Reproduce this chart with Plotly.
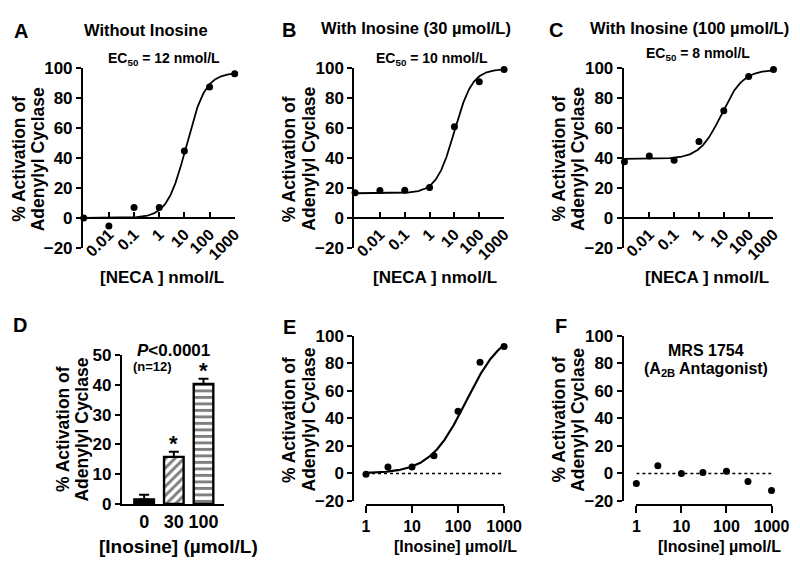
import numpy as np
import plotly.graph_objects as go

FONT = "Arial, 'Liberation Sans', sans-serif"
W, H = 800, 561

# ---------------- data ----------------
neca_conc = [0.001, 0.01, 0.1, 1, 10, 100, 1000]
act_without = [0.0, -5.4, 7.0, 7.0, 44.7, 87.5, 96.3]
act_ino30 = [16.8, 18.3, 18.5, 20.4, 60.9, 91.0, 99.1]
act_ino100 = [37.6, 41.3, 38.5, 51.0, 71.6, 94.4, 99.1]
# fitted 4-parameter logistic: bottom, top, EC50, hill
fit_without = [0.0, 97.0, 12.0, 1.15]
fit_ino30 = [16.5, 99.5, 10.0, 1.2]
fit_ino100 = [39.5, 99.0, 8.0, 1.0]

inosine_dose = ["0", "30", "100"]
inosine_mean = [1.5, 15.8, 40.3]
inosine_sem = [1.6, 1.7, 1.8]
bar_patterns = ["", "/", "-"]
bar_fills = ["black", "white", "white"]

inosine_conc = [1, 3, 10, 30, 100, 300, 1000]
act_inosine = [-0.5, 4.7, 4.7, 12.9, 45.2, 80.8, 92.3]
fit_inosine = [0.0, 105.0, 150.0, 1.1]
act_mrs = [-7.3, 5.6, 0.0, 0.7, 1.6, -5.9, -12.4]

neca_ticks = [0.01, 0.1, 1, 10, 100, 1000]
neca_ticktext = ["0.01", "0.1", "1", "10", "100", "1000"]
ino_ticks = [1, 10, 100, 1000]
ino_ticktext = ["1", "10", "100", "1000"]


def logistic(x, p):
    b, t, ec, h = p
    x = np.asarray(x, dtype=float)
    return b + (t - b) / (1 + (ec / x) ** h)


def px(x):
    return x / W


def py(y):
    return 1 - y / H


fig = go.Figure()

# ---------- top row (A, B, C) ----------
top_sets = [(act_without, fit_without, "x", "y"),
            (act_ino30, fit_ino30, "x2", "y2"),
            (act_ino100, fit_ino100, "x3", "y3")]
xc = np.logspace(-3, 3, 300)
for ys, fit, xa, ya in top_sets:
    fig.add_trace(go.Scatter(x=xc, y=logistic(xc, fit), mode="lines",
                             line=dict(color="black", width=1.8),
                             xaxis=xa, yaxis=ya, cliponaxis=False, showlegend=False))
    fig.add_trace(go.Scatter(x=neca_conc, y=ys, mode="markers",
                             marker=dict(color="black", size=7),
                             xaxis=xa, yaxis=ya, cliponaxis=False, showlegend=False))

# ---------- D bars (one trace per bar, overlaid) ----------
for i in range(len(inosine_dose)):
    mk = dict(color=bar_fills[i], line=dict(color="black", width=2.4))
    if bar_patterns[i]:
        mk["pattern"] = dict(shape=bar_patterns[i], fgcolor="black", bgcolor="white",
                             size=6.5, solidity=0.45, fillmode="overlay")
    fig.add_trace(go.Bar(
        x=[inosine_dose[i]], y=[inosine_mean[i]], width=0.66, marker=mk,
        error_y=dict(type="data", array=[inosine_sem[i]], arrayminus=[0], symmetric=False,
                     color="black", thickness=2, width=5),
        xaxis="x4", yaxis="y4", showlegend=False))

# ---------- E ----------
xe = np.logspace(0, 3, 300)
fig.add_trace(go.Scatter(x=[1, 1000], y=[0, 0], mode="lines",
                         line=dict(color="black", width=1.3, dash="dot"),
                         xaxis="x5", yaxis="y5", showlegend=False))
fig.add_trace(go.Scatter(x=xe, y=logistic(xe, fit_inosine), mode="lines",
                         line=dict(color="black", width=2.2),
                         xaxis="x5", yaxis="y5", cliponaxis=False, showlegend=False))
fig.add_trace(go.Scatter(x=inosine_conc, y=act_inosine, mode="markers",
                         marker=dict(color="black", size=7),
                         xaxis="x5", yaxis="y5", cliponaxis=False, showlegend=False))

# ---------- F ----------
fig.add_trace(go.Scatter(x=[1, 1000], y=[0, 0], mode="lines",
                         line=dict(color="black", width=1.3, dash="dot"),
                         xaxis="x6", yaxis="y6", showlegend=False))
fig.add_trace(go.Scatter(x=inosine_conc, y=act_mrs, mode="markers",
                         marker=dict(color="black", size=7),
                         xaxis="x6", yaxis="y6", cliponaxis=False, showlegend=False))


# ---------- axes ----------
def tf(size):
    return dict(family=FONT, size=size, color="black", weight="bold")


base = dict(showline=True, linecolor="black", linewidth=2, showgrid=False, zeroline=False,
            tickcolor="black", tickwidth=2, ticklen=5, tickfont=tf(17))

top_y_dom = [py(239), py(53)]
y0_pos = top_y_dom[0] + (top_y_dom[1] - top_y_dom[0]) * 20 / 120

layout_axes = {}
for i, (x0, x1) in enumerate([(73, 229), (352, 506), (629, 783)]):
    s = "" if i == 0 else str(i + 1)
    layout_axes["xaxis" + s] = dict(base, domain=[px(x0), px(x1)], type="log", range=[-3.03, 3.0],
                                   anchor="free", position=y0_pos, ticks="inside",
                                   tickvals=neca_ticks, ticktext=neca_ticktext, tickangle=-45,
                                   tickfont=tf(16))
    layout_axes["yaxis" + s] = dict(base, domain=top_y_dom, range=[-20, 100], dtick=20,
                                   anchor="x" + s, ticks="outside")

layout_axes["xaxis4"] = dict(base, domain=[px(113), px(218)], type="category",
                             range=[-0.75, 2.69], anchor="y4", ticks="",
                             tickfont=tf(18))
layout_axes["yaxis4"] = dict(base, domain=[py(504), py(350)], range=[0, 50], dtick=10,
                             anchor="x4", ticks="outside", tickfont=tf(17))

bot_y_dom = [py(501), py(330)]
for s, (yx, x0, x1) in {"5": (351, 364, 506), "6": (628, 642, 781)}.items():
    layout_axes["xaxis" + s] = dict(base, domain=[px(x0), px(x1)], type="log", range=[0, 3],
                                   anchor="free", position=py(505), ticks="outside", ticklen=7,
                                   tickvals=ino_ticks, ticktext=ino_ticktext, tickfont=tf(16))
    layout_axes["yaxis" + s] = dict(base, domain=bot_y_dom, range=[-20, 100], dtick=20,
                                   anchor="free", position=px(yx), ticks="outside",
                                   tickfont=tf(17))

# ---------- annotations ----------
anns = []


def ann(text, x, y, size, weight="bold", angle=0, xref="paper", yref="paper", **kw):
    a = dict(text=text, x=x, y=y, xref=xref, yref=yref, showarrow=False,
             font=dict(family=FONT, size=size, color="black", weight=weight),
             textangle=angle, xanchor="center", yanchor="middle")
    a.update(kw)
    anns.append(a)


# panel letters
for t, x, y in [("A", 9, 14), ("B", 285, 13), ("C", 559, 13),
                ("D", 8, 319), ("E", 285, 321), ("F", 565, 320)]:
    ann(t, px(x), py(y), 20)

# titles
ann("Without Inosine", px(138), py(13), 16.5)
ann("With Inosine (30 µmol/L)", px(415), py(11), 16.5)
ann("With Inosine (100 µmol/L)", px(697), py(11), 16.5)

# EC50
ann("EC<sub>50</sub> = 12 nmol/L", px(156), py(43), 14)
ann("EC<sub>50</sub> = 10 nmol/L", px(432), py(43), 14)
ann("EC<sub>50</sub> = 8 nmol/L", px(705), py(38), 14)

# y titles (two lines each)
for x, y in [(7, 147), (285, 147), (562, 147), (52, 427), (285, 417), (562, 417)]:
    ann("% Activation of", px(x), py(y), 17.5, angle=-90)
    ann("Adenylyl Cyclase", px(x + 20), py(y), 17.5, angle=-90)

# x titles
ann("[NECA ] nmol/L", px(154), py(270), 17)
ann("[NECA ] nmol/L", px(435), py(270), 17)
ann("[NECA ] nmol/L", px(715), py(270), 17)
ann("[Inosine] (µmol/L)", px(171), py(548), 19)
ann("[Inosine] µmol/L", px(456), py(548), 16)
ann("[Inosine] µmol/L", px(727), py(548), 16)

# D annotations
ann("<i>P</i><0.0001", px(166), py(345), 17)
ann("(n=12)", px(144), py(362), 13)
for i in (1, 2):
    ann("*", i, inosine_mean[i] + inosine_sem[i], 22,
        xref="x4", yref="y4", yanchor="bottom", yshift=-6)

# F annotation
ann("MRS 1754", px(714), py(345), 16)
ann("(A<sub>2B</sub> Antagonist)", px(714), py(365), 16)

fig.update_layout(
    width=W, height=H, autosize=False,
    margin=dict(l=0, r=0, t=0, b=0),
    paper_bgcolor="white", plot_bgcolor="white",
    font=dict(family=FONT, color="black"),
    annotations=anns, barmode="overlay",
    **layout_axes,
)

fig.write_html("out.html")
